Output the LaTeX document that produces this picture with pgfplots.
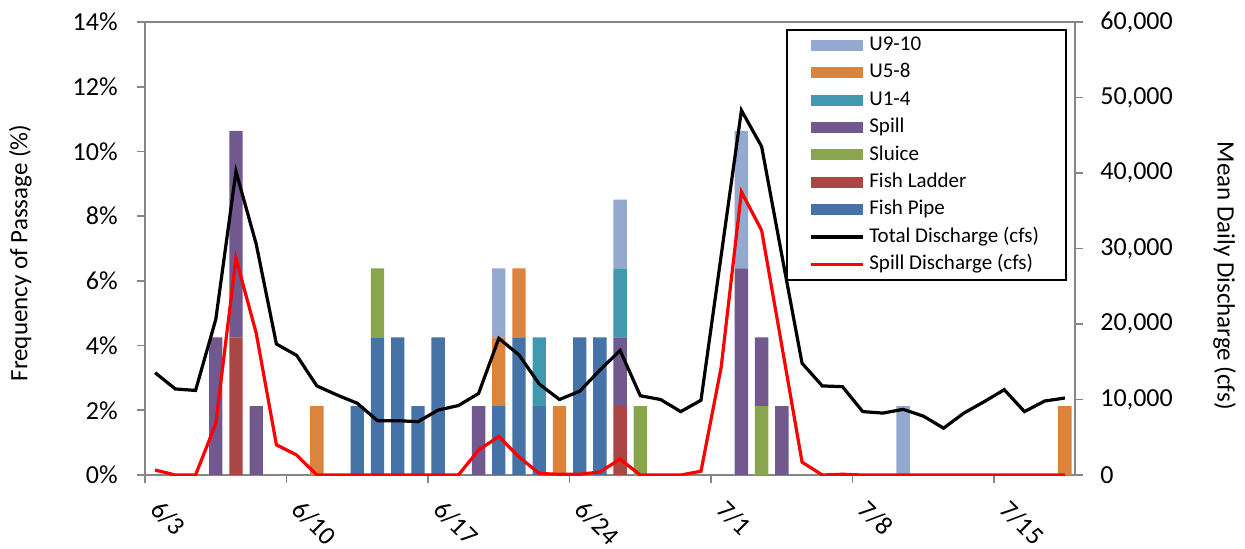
\documentclass[border=0pt]{standalone}
\usepackage{fontspec}
\setmainfont{Carlito}
\usepackage{pgfplots}
\usepackage{pgfplotstable}
\pgfplotsset{compat=1.18}

\definecolor{cPipe}{HTML}{4572A7}
\definecolor{cLadder}{HTML}{AA4643}
\definecolor{cSluice}{HTML}{89A54E}
\definecolor{cSpill}{HTML}{71588F}
\definecolor{cUa}{HTML}{4198AF}
\definecolor{cUb}{HTML}{DB843D}
\definecolor{cUc}{HTML}{93A9CF}
\definecolor{axgray}{HTML}{868686}
\definecolor{spillred}{HTML}{FF0000}

% percent of fish passing per day, by route
\pgfplotstableread{
x    pipe  ladder sluice spill  ua    ub    uc
0.5  0     0      0      0      0     0     0
1.5  0     0      0      0      0     0     0
2.5  0     0      0      0      0     0     0
3.5  0     0      0      4.255  0     0     0
4.5  0     4.255  0      6.383  0     0     0
5.5  0     0      0      2.128  0     0     0
6.5  0     0      0      0      0     0     0
7.5  0     0      0      0      0     0     0
8.5  0     0      0      0      0     2.128 0
9.5  0     0      0      0      0     0     0
10.5 2.128 0      0      0      0     0     0
11.5 4.255 0      2.128  0      0     0     0
12.5 4.255 0      0      0      0     0     0
13.5 2.128 0      0      0      0     0     0
14.5 4.255 0      0      0      0     0     0
15.5 0     0      0      0      0     0     0
16.5 0     0      0      2.128  0     0     0
17.5 2.128 0      0      0      0     2.128 2.128
18.5 4.255 0      0      0      0     2.128 0
19.5 2.128 0      0      0      2.128 0     0
20.5 0     0      0      0      0     2.128 0
21.5 4.255 0      0      0      0     0     0
22.5 4.255 0      0      0      0     0     0
23.5 0     2.128  0      2.128  2.128 0     2.128
24.5 0     0      2.128  0      0     0     0
25.5 0     0      0      0      0     0     0
26.5 0     0      0      0      0     0     0
27.5 0     0      0      0      0     0     0
28.5 0     0      0      0      0     0     0
29.5 0     0      0      6.383  0     0     4.255
30.5 0     0      2.128  2.128  0     0     0
31.5 0     0      0      2.128  0     0     0
32.5 0     0      0      0      0     0     0
33.5 0     0      0      0      0     0     0
34.5 0     0      0      0      0     0     0
35.5 0     0      0      0      0     0     0
36.5 0     0      0      0      0     0     0
37.5 0     0      0      0      0     0     2.128
38.5 0     0      0      0      0     0     0
39.5 0     0      0      0      0     0     0
40.5 0     0      0      0      0     0     0
41.5 0     0      0      0      0     0     0
42.5 0     0      0      0      0     0     0
43.5 0     0      0      0      0     0     0
44.5 0     0      0      0      0     0     0
45.5 0     0      0      0      0     2.128 0
}\passage

% mean daily discharge (cfs)
\pgfplotstableread{
x    total  spill
0.5  13550  660
1.5  11400  0
2.5  11200  0
3.5  20600  6800
4.5  40200  28700
5.5  30600  18800
6.5  17350  4000
7.5  15850  2650
8.5  11800  0
9.5  10600  0
10.5 9500   0
11.5 7200   0
12.5 7200   0
13.5 7060   0
14.5 8600   0
15.5 9200   0
16.5 10800  3300
17.5 18100  5100
18.5 15900  2400
19.5 12050  200
20.5 10000  100
21.5 11100  100
22.5 13900  400
23.5 16500  2100
24.5 10500  0
25.5 10000  0
26.5 8400   0
27.5 9900   500
28.5 29100  14300
29.5 48300  37500
30.5 43500  32400
31.5 29100  17100
32.5 14800  1700
33.5 11800  0
34.5 11700  100
35.5 8400   0
36.5 8200   0
37.5 8700   0
38.5 7800   0
39.5 6200   0
40.5 8200   0
41.5 9700   0
42.5 11300  0
43.5 8400   0
44.5 9800   0
45.5 10200  0
}\discharge

\pgfplotsset{
  common/.style={
    width=465pt, height=226.5pt, scale only axis,
    at={(0pt,0pt)}, anchor=south west,
    xmin=0, xmax=46, ymin=0,
    axis line style={draw=axgray, line width=0.8pt},
    tick style={draw=axgray, line width=0.8pt},
    tick align=outside, major tick length=4pt,
    /pgf/number format/assume math mode=true,
    tick label style={font=\fontsize{13}{15}\selectfont},
  },
  barleg/.style={legend image code/.code={\fill[##1] (0pt,-2.75pt) rectangle (26pt,2.75pt);}},
  lineleg/.style={legend image code/.code={\draw[##1] (0pt,0pt) -- (26pt,0pt);}},
}

\begin{document}
\begin{tikzpicture}
\useasboundingbox (-72.5pt,-36.5pt) rectangle (550pt,237.5pt);
\begin{axis}[common,
  ybar stacked, bar width=0.66,
  ymax=14, ytick={0,2,...,14},
  yticklabel={\pgfmathprintnumber{\tick}\%},
  ytick pos=left, xtick pos=bottom,
  xtick={0,7,...,42},
  xticklabels={6/3,6/10,6/17,6/24,7/1,7/8,7/15},
  xticklabel style={inner sep=0pt, anchor=base west, xshift=2pt, yshift=-14pt, rotate=-45},
  yticklabel style={anchor=east, inner sep=0pt, xshift=-9.5pt},
  every axis y label/.style={at={(axis description cs:-0.134,0.49)}, rotate=90, anchor=center, font=\fontsize{12.5}{15}\selectfont},
  ylabel={Frequency of Passage (\%)},
]
\addplot[fill=cPipe, draw=none] table[x=x, y=pipe] {\passage};
\addplot[fill=cLadder, draw=none] table[x=x, y=ladder] {\passage};
\addplot[fill=cSluice, draw=none] table[x=x, y=sluice] {\passage};
\addplot[fill=cSpill, draw=none] table[x=x, y=spill] {\passage};
\addplot[fill=cUa, draw=none] table[x=x, y=ua] {\passage};
\addplot[fill=cUb, draw=none] table[x=x, y=ub] {\passage};
\addplot[fill=cUc, draw=none] table[x=x, y=uc] {\passage};
\end{axis}
\begin{axis}[common,
  hide x axis, axis y line*=right, ytick pos=right,
  ymax=60000, ytick={0,10000,...,60000},
  scaled y ticks=false,
  /pgf/number format/1000 sep={,},
  yticklabel style={anchor=west, inner sep=0pt, xshift=8.5pt},
  every axis y label/.style={at={(axis description cs:1.161,0.44)}, rotate=-90, anchor=center, font=\fontsize{12.5}{15}\selectfont},
  ylabel={Mean Daily Discharge (cfs)},
  legend cell align=left,
  legend style={at={(1,1)}, anchor=north east, xshift=-4pt, yshift=-3.5pt,
    draw=black, line width=1pt, fill=white,
    inner xsep=11pt, inner ysep=3pt, row sep=4.5pt,
    nodes={inner xsep=2.5pt, inner ysep=0pt, text height=7.2pt, text depth=2pt},
    font=\fontsize{10.5}{12}\selectfont},
]
\addlegendimage{barleg, fill=cUc, draw=none}
\addlegendentry{U9-10}
\addlegendimage{barleg, fill=cUb, draw=none}
\addlegendentry{U5-8}
\addlegendimage{barleg, fill=cUa, draw=none}
\addlegendentry{U1-4}
\addlegendimage{barleg, fill=cSpill, draw=none}
\addlegendentry{Spill}
\addlegendimage{barleg, fill=cSluice, draw=none}
\addlegendentry{Sluice}
\addlegendimage{barleg, fill=cLadder, draw=none}
\addlegendentry{Fish Ladder}
\addlegendimage{barleg, fill=cPipe, draw=none}
\addlegendentry{Fish Pipe}
\addplot[black, line width=1.6pt, lineleg] table[x=x, y=total] {\discharge};
\addlegendentry{Total Discharge (cfs)}
\addplot[spillred, line width=1.6pt, lineleg] table[x=x, y=spill] {\discharge};
\addlegendentry{Spill Discharge (cfs)}
\end{axis}
\end{tikzpicture}
\end{document}
